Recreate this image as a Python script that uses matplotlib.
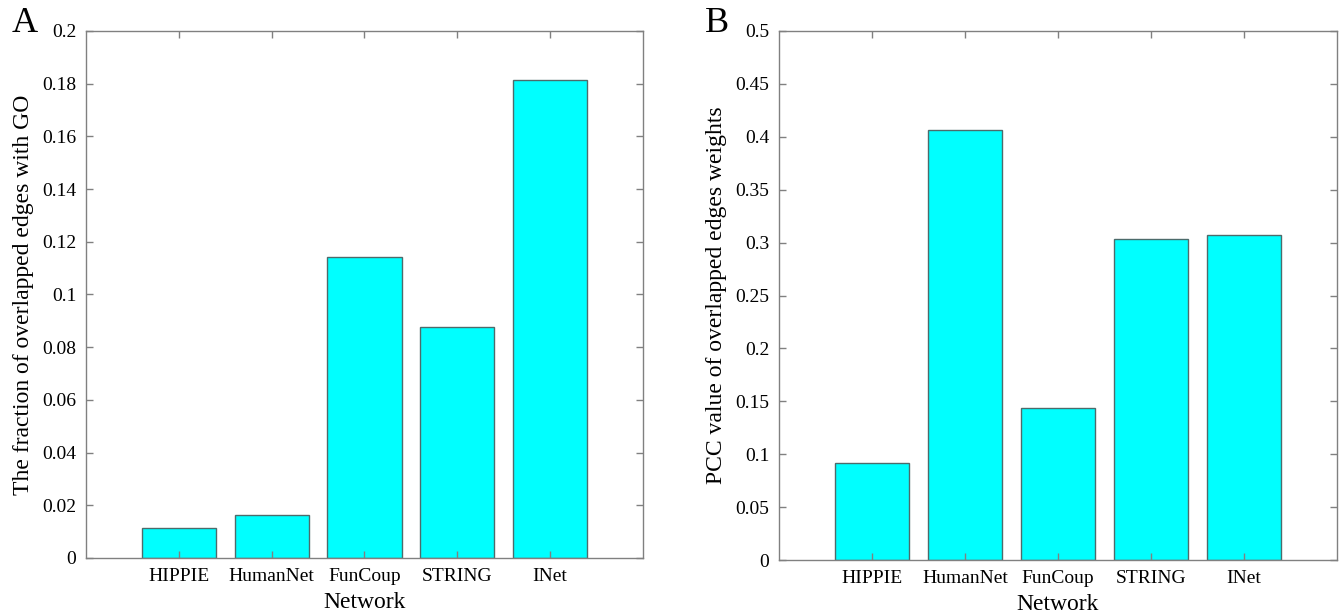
import matplotlib
matplotlib.use("Agg")
import matplotlib.pyplot as plt
import numpy as np

networks = ['HIPPIE', 'HumanNet', 'FunCoup', 'STRING', 'INet']
go_fraction = [0.0114, 0.0164, 0.1142, 0.0876, 0.1812]
pcc_values = [0.0917, 0.4066, 0.1438, 0.3036, 0.3075]

plt.rcParams['font.family'] = ['Liberation Serif', 'DejaVu Serif']

fig = plt.figure(figsize=(13.41, 6.15), dpi=100)
ax_a = fig.add_axes([0.0641, 0.0927, 0.4154, 0.857])
ax_b = fig.add_axes([0.5809, 0.0894, 0.4161, 0.8602])

def panel(ax, vals, ymax, step, ylabel, letter, fmt):
    x = np.arange(1, len(networks) + 1)
    ax.bar(x, vals, width=0.8, color='#00ffff', edgecolor='#4d6b6b', linewidth=1.0)
    ax.set_xlim(0, 6)
    ax.set_ylim(0, ymax)
    ax.set_xticks(x)
    ax.set_xticklabels(networks)
    ticks = np.arange(0, ymax + step / 2, step)
    ax.set_yticks(ticks)
    ax.set_yticklabels([fmt(t) for t in ticks])
    ax.tick_params(direction='in', length=5, width=1, color='#808080',
                   labelsize=14, top=True, right=True, pad=7)
    for s in ax.spines.values():
        s.set_color('#808080')
        s.set_linewidth(1)
    ax.set_xlabel('Network', fontsize=17, labelpad=5)
    ax.set_ylabel(ylabel, fontsize=17, labelpad=6)
    ax.text(-0.133, 1.015, letter, transform=ax.transAxes, fontsize=26,
            ha='left', va='center')

def fmt_num(t):
    s = ('%.2f' % t).rstrip('0').rstrip('.')
    return s if s else '0'

panel(ax_a, go_fraction, 0.2, 0.02, 'The fraction of overlapped edges with GO', 'A', fmt_num)
panel(ax_b, pcc_values, 0.5, 0.05, 'PCC value of overlapped edges weights', 'B', fmt_num)

fig.savefig('out.png', dpi=100)
